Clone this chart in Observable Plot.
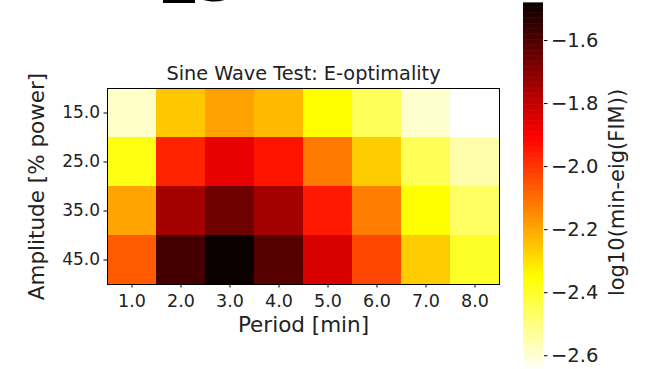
<!DOCTYPE html>
<html>
<head>
<meta charset="utf-8">
<script src="https://cdn.jsdelivr.net/npm/d3@7"></script>
<script src="https://cdn.jsdelivr.net/npm/@observablehq/plot@0.6"></script>
<style>
  html, body { margin: 0; padding: 0; background: white; }
  #wrap { position: relative; width: 648px; height: 369px; overflow: hidden; background: white; font-family: "DejaVu Sans", sans-serif; }
  #wrap svg { position: absolute; top: 0; overflow: visible; }
  #sup { position: absolute; left: 163px; top: -66.5px; font: bold 64px "DejaVu Sans"; color: black; white-space: pre; line-height: 1; }
</style>
</head>
<body>
<div id="wrap"><div id="sup">_g</div></div>
<script>
// ---- data ----
const periods = ["1.0", "2.0", "3.0", "4.0", "5.0", "6.0", "7.0", "8.0"];
const amplitudes = ["15.0", "25.0", "35.0", "45.0"];
const values15 = [-2.585, -2.255, -2.189, -2.233, -2.353, -2.457, -2.592, -2.650];
const values25 = [-2.377, -1.970, -1.870, -1.944, -2.118, -2.265, -2.452, -2.552];
const values35 = [-2.195, -1.750, -1.658, -1.750, -1.953, -2.127, -2.353, -2.469];
const values45 = [-2.066, -1.583, -1.4825, -1.616, -1.842, -2.030, -2.265, -2.400];
const colorbarTicks = [-2.6, -2.4, -2.2, -2.0, -1.8, -1.6];
const title = "Sine Wave Test: E-optimality";
const xLabel = "Period [min]";
const yLabel = "Amplitude [% power]";
const cbLabel = "log10(min-eig(FIM))";

const rows = [values15, values25, values35, values45];
const table = [];
amplitudes.forEach((a, i) => periods.forEach((p, j) => table.push({period: p, amp: a, value: rows[i][j]})));
const allVals = rows.flat();
const vmin = d3.min(allVals), vmax = d3.max(allVals);

// matplotlib "hot" colormap, reversed
function hot(t) {
  const r = t < 0.365079 ? 0.0416 + (1 - 0.0416) * t / 0.365079 : 1;
  const g = t < 0.365079 ? 0 : t < 0.746032 ? (t - 0.365079) / (0.746032 - 0.365079) : 1;
  const b = t < 0.746032 ? 0 : (t - 0.746032) / (1 - 0.746032);
  return `rgb(${Math.round(r * 255)},${Math.round(g * 255)},${Math.round(b * 255)})`;
}
const hotR = t => hot(1 - Math.max(0, Math.min(1, t)));
const colorOpts = {type: "linear", domain: [vmin, vmax], interpolate: hotR};

const font = "DejaVu Sans";
const wrap = document.getElementById("wrap");

const main = Plot.plot({
  width: 510, height: 369,
  marginLeft: 107, marginRight: 11, marginTop: 88, marginBottom: 85,
  style: {fontFamily: font, color: "black", background: "transparent"},
  x: {domain: periods, padding: 0, label: null},
  y: {domain: amplitudes, padding: 0, label: null},
  color: colorOpts,
  marks: [
    Plot.cell(table, {x: "period", y: "amp", fill: "value"}),
    Plot.frame({stroke: "black", strokeWidth: 1}),
    Plot.axisX({tickSize: 3.5, tickPadding: 7, fontSize: 17.5, label: null, fill: "#222"}),
    Plot.axisY({tickSize: 3.5, tickPadding: 4, fontSize: 17, label: null, fill: "#222"}),
    Plot.text([title], {frameAnchor: "top", dy: -22, fontSize: 19.3, fill: "#222"}),
    Plot.text([xLabel], {frameAnchor: "bottom", dy: 47, fontSize: 21.5, fill: "#222"}),
    Plot.text([yLabel], {frameAnchor: "left", textAnchor: "middle", dx: -70, rotate: -90, fontSize: 21.5, fill: "#222"})
  ]
});
main.style.left = "0px";
wrap.appendChild(main);

const N = 300;
const step = (vmax - vmin) / N;
const bands = d3.range(N);
const cb = Plot.plot({
  width: 148, height: 369,
  marginLeft: 23, marginRight: 105, marginTop: 3, marginBottom: 0,
  style: {fontFamily: font, color: "black", background: "transparent"},
  x: {domain: [0, 1], axis: null},
  y: {domain: [vmin, vmax], range: [371, 3], label: null},
  color: colorOpts,
  marks: [
    Plot.rect(bands, {x1: 0, x2: 1, y1: i => vmin + i * step, y2: i => vmin + (i + 1) * step + step * 0.5, fill: i => vmin + (i + 0.5) * step}),
    Plot.axisY({anchor: "right", ticks: colorbarTicks, tickFormat: d3.format(".1f"), tickSize: 3.5, tickPadding: 4, fontSize: 19.5, label: null, fill: "#222"}),
    Plot.text([cbLabel], {x: 1, y: (vmin + vmax) / 2, dx: 74, dy: 5, rotate: -90, fontSize: 21, fill: "#222"})
  ]
});
cb.style.left = "500px";
wrap.appendChild(cb);
</script>
</body>
</html>
